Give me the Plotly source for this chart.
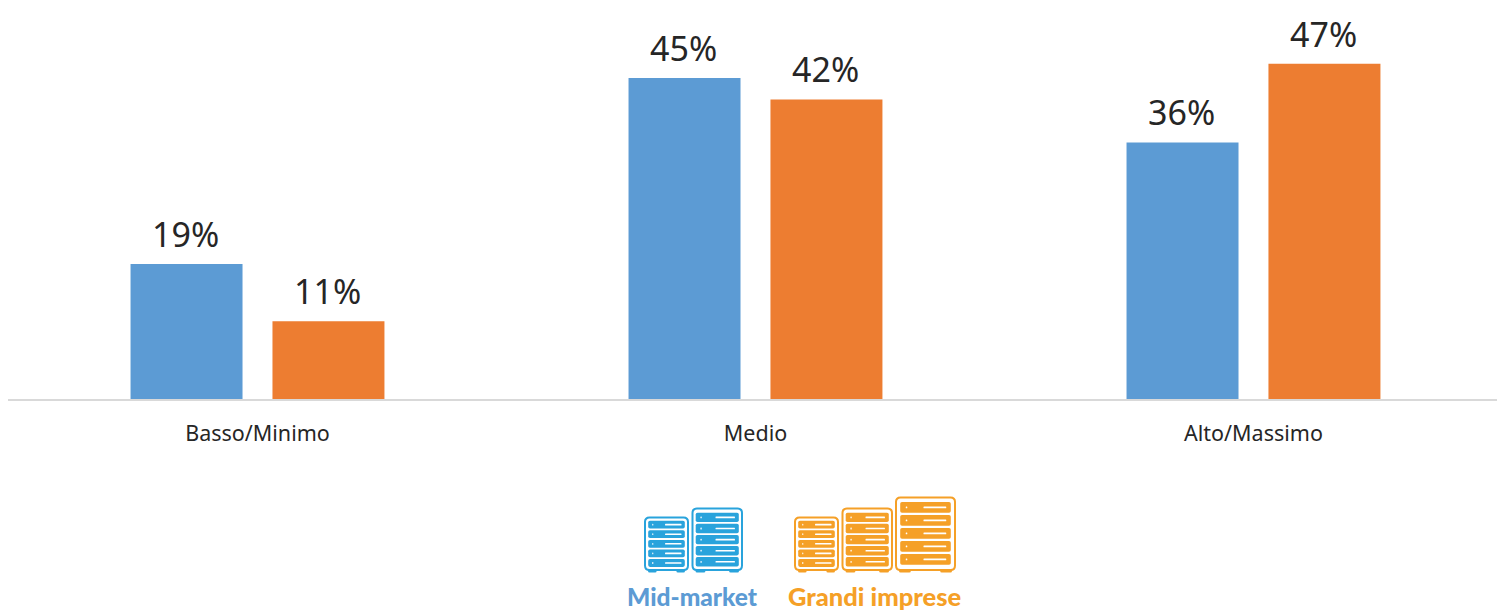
import plotly.graph_objects as go

categories = ["Basso/Minimo", "Medio", "Alto/Massimo"]
mid_market = [19, 45, 36]
grandi_imprese = [11, 42, 47]
legend_names = ["Mid-market", "Grandi imprese"]

W, H = 1497, 610
LEFT, BASE = 8, 400
BLUE, ORANGE = "#5c9bd4", "#ed7d31"
ICON_BLUE, ICON_ORANGE = "#29a3dc", "#f5a027"
INK = "#262626"
FONT = "Noto Sans"
SANS_BOLD = "Lato"


def px(x):
    return (x - LEFT) / (W - LEFT)


def py(y):
    return (BASE - y) / BASE


def rounded(x0, y0, x1, y1, r):
    return (
        f"M{px(x0 + r)},{py(y0)} L{px(x1 - r)},{py(y0)} "
        f"Q{px(x1)},{py(y0)} {px(x1)},{py(y0 + r)} "
        f"L{px(x1)},{py(y1 - r)} Q{px(x1)},{py(y1)} {px(x1 - r)},{py(y1)} "
        f"L{px(x0 + r)},{py(y1)} Q{px(x0)},{py(y1)} {px(x0)},{py(y1 - r)} "
        f"L{px(x0)},{py(y0 + r)} Q{px(x0)},{py(y0)} {px(x0 + r)},{py(y0)} Z"
    )


def path(d, fill="rgba(0,0,0,0)", line=None, width=0):
    return dict(
        type="path", xref="paper", yref="paper", path=d, fillcolor=fill,
        line=dict(color=line or "rgba(0,0,0,0)", width=width), layer="above",
    )


def server_rack(x0, x1, y0, y1, color, inset, start, drawer_h, pitch):
    """A rack icon: outlined cabinet, two feet and five drawers."""
    w = x1 - x0
    parts = [
        path(rounded(x0 + 3, y1 - 1, x0 + 3 + w * 0.2, y1 + 2.5, 1.5), fill=color),
        path(rounded(x1 - 3 - w * 0.2, y1 - 1, x1 - 3, y1 + 2.5, 1.5), fill=color),
        path(rounded(x0, y0, x1, y1, 4.5), fill="white", line=color, width=2),
    ]
    dx0, dx1 = x0 + inset, x1 - inset
    dw = dx1 - dx0
    for i in range(5):
        top = start + i * pitch
        mid = top + drawer_h / 2
        parts.append(path(rounded(dx0, top, dx1, top + drawer_h, 1.8), fill=color))
        parts.append(path(
            rounded(dx0 + dw * 0.46, mid - 0.8, dx0 + dw * 0.91, mid + 0.8, 0.5),
            fill="white",
        ))
        parts.append(path(
            rounded(dx0 + dw * 0.11, mid - 0.9, dx0 + dw * 0.14, mid + 0.9, 0.5),
            fill="white",
        ))
    return parts


fig = go.Figure()
fig.add_bar(
    x=categories, y=mid_market, name=legend_names[0], marker_color=BLUE,
    marker_line_width=0,
)
fig.add_bar(
    x=categories, y=grandi_imprese, name=legend_names[1], marker_color=ORANGE,
    marker_line_width=0,
)

# Value labels sit above each bar, offset to the bar's slot within the group.
annotations = []
for series, shift in ((mid_market, -71.5), (grandi_imprese, 70)):
    for cat, val in zip(categories, series):
        annotations.append(dict(
            x=cat, y=val, xref="x", yref="y", text=f"{val}%", showarrow=False,
            xshift=shift, yshift=5, yanchor="bottom",
            font=dict(family=FONT, size=34, color=INK),
        ))

for label, x_center, color, size in (
    (legend_names[0], 692.5, BLUE, 24.5),
    (legend_names[1], 874.5, ICON_ORANGE, 25.5),
):
    annotations.append(dict(
        x=px(x_center), y=py(596), xref="paper", yref="paper", text=label,
        showarrow=False, xanchor="center", yanchor="middle",
        font=dict(family=SANS_BOLD, size=size, color=color, weight=900),
    ))

shapes = [dict(
    type="line", xref="paper", yref="paper", x0=0, x1=1, y0=py(400), y1=py(400),
    line=dict(color="#d9d9d9", width=2), layer="above",
)]
shapes += server_rack(645, 688, 517.5, 570, ICON_BLUE, 3.2, 520.7, 7.8, 9.6)
shapes += server_rack(692.5, 742, 508.5, 570, ICON_BLUE, 3.2, 512.7, 9.4, 11.1)
shapes += server_rack(795, 838, 517.5, 570, ICON_ORANGE, 3.2, 520.7, 7.8, 9.6)
shapes += server_rack(842.5, 892, 508.5, 570, ICON_ORANGE, 3.2, 512.7, 9.4, 11.1)
shapes += server_rack(896, 955, 497.5, 570, ICON_ORANGE, 4.2, 502, 10.8, 13)

fig.update_layout(
    width=W, height=H,
    margin=dict(l=LEFT, r=0, t=0, b=H - BASE),
    paper_bgcolor="white", plot_bgcolor="white",
    barmode="group", bargap=0.43, bargroupgap=0.211,
    showlegend=False,
    annotations=annotations, shapes=shapes,
    xaxis=dict(
        type="category", range=[-0.501, 2.489], showgrid=False, zeroline=False,
        showline=False,
        ticks="outside", ticklen=14, tickcolor="rgba(0,0,0,0)",
        tickfont=dict(family=FONT, size=21.5, color=INK),
    ),
    yaxis=dict(range=[0, BASE / 7.155], visible=False),
)

fig.write_html("out.html")
